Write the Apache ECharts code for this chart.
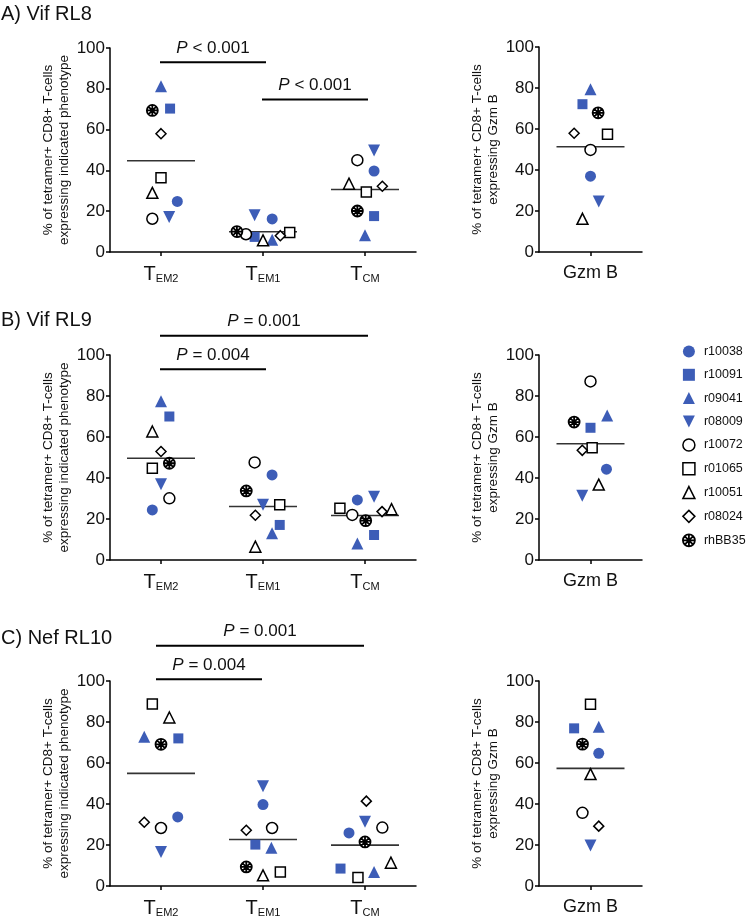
<!DOCTYPE html>
<html><head><meta charset="utf-8">
<script src="https://cdn.jsdelivr.net/npm/echarts@6/dist/echarts.min.js"></script>
<style>html,body{margin:0;padding:0;background:#fff}#c{width:750px;height:918px}</style>
</head><body><div id="c"></div>
<script>
// ---------------- data ----------------
const animals = ['r10038','r10091','r09041','r08009','r10072','r01065','r10051','r08024','rhBB35'];
const phenotypes = ['EM2','EM1','CM'];          // tick labels: T with subscript
const gzmCategory = ['Gzm B'];
const rowTitles = ['A) Vif RL8','B) Vif RL9','C) Nef RL10'];
const yTicks = [0,20,40,60,80,100];

// values in animal order
const vifRL8_TEM2 = [24.8, 70.3, 81.2, 17.2, 16.3, 36.4, 29.0, 58.0, 69.4];
const vifRL8_TEM1 = [16.2,  7.4,  6.0, 18.0,  8.7,  9.5,  5.7,  8.0, 10.0];
const vifRL8_TCM  = [39.7, 17.6,  8.2, 49.8, 45.0, 29.4, 33.5, 32.2, 20.1];
const vifRL8_GzmB = [37.0, 72.1, 79.4, 24.6, 49.8, 57.5, 16.2, 57.9, 67.9];

const vifRL9_TEM2 = [24.4, 70.0, 77.4, 37.0, 30.1, 44.8, 62.7, 52.9, 47.2];
const vifRL9_TEM1 = [41.5, 17.1, 13.0, 26.9, 47.6, 26.9,  6.5, 21.8, 33.7];
const vifRL9_TCM  = [29.3, 12.2,  8.1, 30.9, 22.0, 25.2, 24.8, 23.6, 19.2];
const vifRL9_GzmB = [44.3, 64.5, 70.5, 31.4, 87.1, 54.7, 36.8, 53.5, 67.3];

const nefRL10_TEM2 = [33.7, 72.0, 72.8, 16.6, 28.3, 88.8, 82.2, 31.1, 69.1];
const nefRL10_TEM1 = [39.7, 20.2, 18.7, 48.7, 28.3,  6.8,  5.2, 27.2,  9.3];
const nefRL10_TCM  = [25.9,  8.5,  6.8, 31.3, 28.5,  4.1, 11.4, 41.4, 21.5];
const nefRL10_GzmB = [64.7, 76.9, 77.7, 19.7, 35.7, 88.6, 54.6, 29.2, 69.2];

// horizontal scatter offsets (category units), animal order
const vifRL8_TEM2_jitter  = [0.16, 0.089, 0, 0.08, -0.085, 0, -0.085, 0, -0.085];
const vifRL8_TEM1_jitter  = [0.09, -0.082, 0.09, -0.082, -0.167, 0.262, 0, 0.17, -0.256];
const vifRL8_TCM_jitter   = [0.089, 0.089, 0, 0.089, -0.075, 0.013, -0.157, 0.17, -0.075];
const vifRL8_GzmB_jitter  = [0, -0.078, 0, 0.08, 0, 0.165, -0.078, -0.159, 0.074];
const vifRL9_TEM2_jitter  = [-0.085, 0.082, 0, 0, 0.082, -0.085, -0.085, 0, 0.082];
const vifRL9_TEM1_jitter  = [0.089, 0.164, 0.089, 0, -0.082, 0.164, -0.075, -0.075, -0.164];
const vifRL9_TCM_jitter   = [-0.075, 0.089, -0.075, 0.089, -0.125, -0.246, 0.26, 0.167, 0.007];
const vifRL9_GzmB_jitter  = [0.155, 0, 0.162, -0.08, 0, 0.016, 0.08, -0.08, -0.159];
const nefRL10_TEM2_jitter = [0.164, 0.17, -0.164, 0, 0, -0.085, 0.082, -0.164, 0];
const nefRL10_TEM1_jitter = [0, -0.075, 0.082, 0, 0.089, 0.17, 0, -0.164, -0.164];
const nefRL10_TCM_jitter  = [-0.157, -0.24, 0.089, 0, 0.17, -0.069, 0.254, 0.013, 0];
const nefRL10_GzmB_jitter = [0.08, -0.159, 0.08, 0, -0.078, 0, 0, 0.08, -0.078];

// significance annotations
const sigLabels = ['< 0.001','< 0.001','= 0.001','= 0.004','= 0.001','= 0.004'];
const sigPairs  = [[0,1],[1,2],[0,2],[0,1],[0,2],[0,1]];
const sigLevels = [93, 74.8, 109.4, 93, 117.2, 100.8];
const sigGrids  = [0,0,2,2,4,4];

// ---------------- styling ----------------
const FONT = '"Liberation Sans", Arial, Helvetica, sans-serif';
const BLUE = '#3D5DB7';
const TXT = '#111';
const DOWN = 'path://M0,0L10,0L5,10Z';
const STAR = 'path://M10,1A9,9,0,1,1,9.99,1ZM10,1L10,19M1,10L19,10M3.64,3.64L16.36,16.36M16.36,3.64L3.64,16.36';
const markerStyles = [
  {symbol:'circle',  size:11, fill:BLUE},
  {symbol:'rect',    size:10, fill:BLUE},
  {symbol:'triangle',size:12, fill:BLUE},
  {symbol:DOWN,      size:12, fill:BLUE},
  {symbol:'circle',  size:11, open:true},
  {symbol:'rect',    size:10, open:true},
  {symbol:'triangle',size:11, open:true},
  {symbol:'diamond', size:10, open:true},
  {symbol:STAR,      size:11, open:true, bw:1.8}
];
function itemStyleFor(m){
  return m.open ? {color:'#fff', borderColor:'#000', borderWidth:m.bw || 1.5, opacity:1}
                : {color:m.fill, borderWidth:0, opacity:1};
}

const panels = [
  {grid:{left:110, top:48, width:306, height:204}, cats:phenotypes, vals:[vifRL8_TEM2,vifRL8_TEM1,vifRL8_TCM], jit:[vifRL8_TEM2_jitter,vifRL8_TEM1_jitter,vifRL8_TCM_jitter], name:'% of tetramer+ CD8+ T-cells\nexpressing indicated phenotype'},
  {grid:{left:539, top:47, width:103, height:205}, cats:gzmCategory, vals:[vifRL8_GzmB], jit:[vifRL8_GzmB_jitter], name:'% of tetramer+ CD8+ T-cells\nexpressing Gzm B'},
  {grid:{left:110, top:355, width:306, height:205}, cats:phenotypes, vals:[vifRL9_TEM2,vifRL9_TEM1,vifRL9_TCM], jit:[vifRL9_TEM2_jitter,vifRL9_TEM1_jitter,vifRL9_TCM_jitter], name:'% of tetramer+ CD8+ T-cells\nexpressing indicated phenotype'},
  {grid:{left:539, top:355, width:103, height:205}, cats:gzmCategory, vals:[vifRL9_GzmB], jit:[vifRL9_GzmB_jitter], name:'% of tetramer+ CD8+ T-cells\nexpressing Gzm B'},
  {grid:{left:110, top:681, width:306, height:205}, cats:phenotypes, vals:[nefRL10_TEM2,nefRL10_TEM1,nefRL10_TCM], jit:[nefRL10_TEM2_jitter,nefRL10_TEM1_jitter,nefRL10_TCM_jitter], name:'% of tetramer+ CD8+ T-cells\nexpressing indicated phenotype'},
  {grid:{left:539, top:681, width:103, height:205}, cats:gzmCategory, vals:[nefRL10_GzmB], jit:[nefRL10_GzmB_jitter], name:'% of tetramer+ CD8+ T-cells\nexpressing Gzm B'}
];

const mean = a => a.reduce((s,v)=>s+v,0)/a.length;
const axisLineStyle = {color:'#000', width:1.5};

const grid = [], xAxis = [], yAxis = [], series = [];
panels.forEach((p, g) => {
  grid.push(Object.assign({containLabel:false}, p.grid));
  const isPheno = p.cats.length === 3;
  xAxis.push({
    type:'category', gridIndex:g, data:p.cats, boundaryGap:true,
    axisLine:{show:true, onZero:false, lineStyle:axisLineStyle},
    axisTick:{show:true, alignWithLabel:true, length:4, lineStyle:axisLineStyle},
    axisLabel: isPheno ? {
      margin:12, interval:0,
      formatter: v => '{t|T}{s|' + v + '}',
      rich:{
        t:{fontSize:20, lineHeight:20, fontFamily:FONT, color:TXT, verticalAlign:'bottom'},
        s:{fontSize:11, lineHeight:11, fontFamily:FONT, color:TXT, verticalAlign:'bottom'}
      }
    } : {margin:12, fontSize:18, fontFamily:FONT, color:TXT, interval:0},
    splitLine:{show:false}
  });
  xAxis.push({
    type:'value', gridIndex:g, show:false, min:-0.5, max:p.cats.length-0.5,
    axisLine:{onZero:false}, splitLine:{show:false}
  });
  yAxis.push({
    type:'value', gridIndex:g, min:0, max:100, interval:20,
    name:p.name, nameLocation:'middle', nameGap: isPheno ? 32 : 34, nameRotate:90,
    nameTextStyle:{fontSize:13.5, lineHeight:16, fontFamily:FONT, color:TXT},
    axisLine:{show:true, onZero:false, lineStyle:axisLineStyle},
    axisTick:{show:true, length:4, lineStyle:axisLineStyle},
    axisLabel:{margin:5, fontSize:17, fontFamily:FONT, color:TXT},
    splitLine:{show:false}
  });
  // mean lines
  series.push({
    type:'scatter', xAxisIndex:2*g+1, yAxisIndex:g, silent:true,
    symbol:'rect', symbolSize:[68,1.6], itemStyle:{color:'#000'},
    data:p.vals.map((arr,i)=>[i, mean(arr)]), z:2
  });
  animals.forEach((a, k) => {
    const m = markerStyles[k];
    series.push({
      type:'scatter', name:a, xAxisIndex:2*g+1, yAxisIndex:g,
      symbol:m.symbol, symbolSize:m.size, itemStyle:itemStyleFor(m),
      data:p.vals.map((arr,i)=>[i + p.jit[i][k], arr[k]]), z:3
    });
  });
});

const legendData = animals.map((a,k) => {
  const m = markerStyles[k];
  return {name:a, icon:m.symbol, itemStyle:itemStyleFor(m)};
});

const chart = echarts.init(document.getElementById('c'), null, {renderer:'canvas'});
chart.setOption({
  animation:false,
  backgroundColor:'#fff',
  grid, xAxis, yAxis, series,
  legend:{
    orient:'vertical', left:682, top:345, padding:0, itemWidth:12, itemHeight:12, itemGap:10.3,
    data:legendData, selectedMode:false,
    textStyle:{fontSize:12.5, lineHeight:12, fontFamily:FONT, color:TXT, padding:[0,0,0,4]}
  }
});

// titles and significance bars, positioned through the axes
const graphic = [];
const titleY = [14, 320, 638.5];
rowTitles.forEach((t,i) => graphic.push({
  type:'text', x:1, y:titleY[i],
  style:{text:t, fontSize:20, fontFamily:FONT, fill:TXT, align:'left', verticalAlign:'middle'}
}));
sigLabels.forEach((lab, i) => {
  const g = sigGrids[i];
  const shift = g === 4 ? -4 : 0;
  const x1 = chart.convertToPixel({xAxisIndex:2*g+1}, sigPairs[i][0]) - 1 + shift;
  const x2 = chart.convertToPixel({xAxisIndex:2*g+1}, sigPairs[i][1]) + 3 + shift;
  const y = chart.convertToPixel({yAxisIndex:g}, sigLevels[i]);
  graphic.push({type:'line', shape:{x1, y1:y, x2, y2:y}, style:{stroke:'#000', lineWidth:2}});
  graphic.push({
    type:'text', x:(x1+x2)/2, y:y-14,
    style:{
      text:'{i|P} {n|' + lab + '}', align:'center', verticalAlign:'middle',
      fontSize:17, fontFamily:FONT, fill:TXT,
      rich:{
        i:{fontSize:17, fontFamily:FONT, fontStyle:'italic', fill:TXT, color:TXT},
        n:{fontSize:17, fontFamily:FONT, fill:TXT, color:TXT}
      }
    }
  });
});
chart.setOption({graphic});
</script>
</body></html>
